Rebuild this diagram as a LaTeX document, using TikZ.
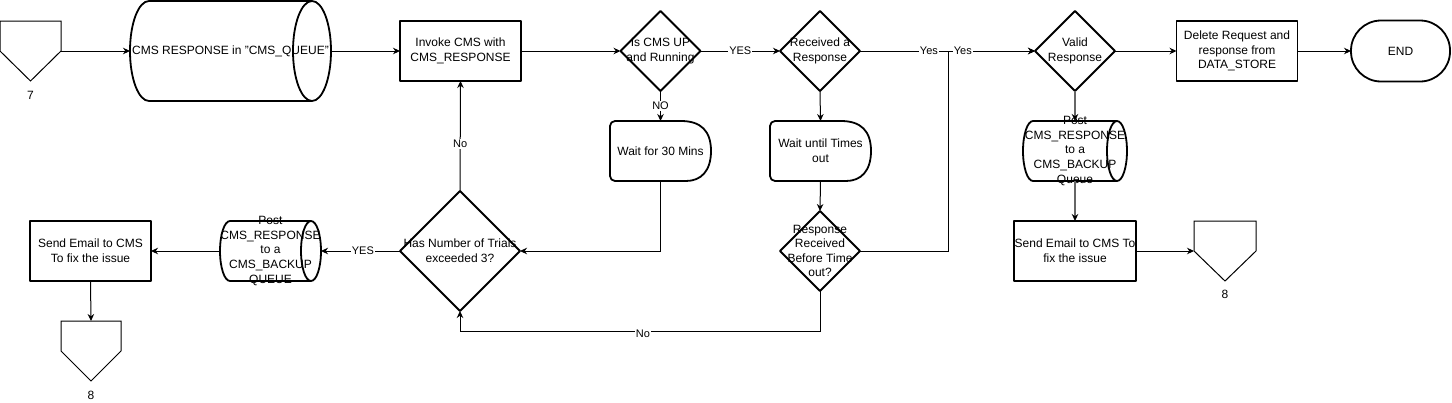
\documentclass[tikz,border=0pt]{standalone}
\usepackage{fontspec}
\setmainfont{Liberation Sans}
\usetikzlibrary{arrows.meta,shapes.geometric}
\begin{document}
\begin{tikzpicture}[x=1pt,y=-1pt,
  base/.style={inner sep=0pt, outer sep=0pt},
  txt/.style={font=\fontsize{12pt}{14.6pt}\selectfont, align=center, inner sep=0pt, text=black},
  shp/.style={draw=black, line width=1.8pt, line join=round},
  procbox/.style={base, rectangle, shp, minimum width=121pt, minimum height=60pt},
  decision/.style={base, diamond, shp, minimum width=80pt, minimum height=80pt},
  frame/.style={base, rectangle},
  offp/.style={draw=black, line width=1pt, line join=miter},
  conn/.style={draw=black, line width=1pt, -{Stealth[length=7pt,width=6.5pt]}},
  grayconn/.style={draw=black!60, line width=1.4pt, -{Stealth[length=7pt,width=6.5pt,color=black]}},
  elbl/.style={font=\fontsize{11pt}{13pt}\selectfont, fill=white, inner sep=1pt, text=black}
]
\fill[white] (0,0) rectangle (1452,402);
\useasboundingbox (0,0) rectangle (1452,402);

% ---------- top row ----------
\node[frame, minimum width=61pt, minimum height=60pt, label={[txt,yshift=-44pt]center:7}] (op7) at (30.5,51) {};
\draw[offp] (op7.north west) -- (op7.north east) -- (op7.east) -- (op7.south) -- (op7.west) -- cycle;

\node[frame, minimum width=201pt, minimum height=100pt, label={[txt]center:{CMS RESPONSE in "CMS\_QUEUE"}}] (cyl1) at (230.5,51) {};
\draw[shp] (149,1) -- (312,1) (149,101) -- (312,101)
  (312,51) ellipse [x radius=19pt, y radius=50pt]
  (149,1) arc [start angle=90, end angle=270, x radius=19pt, y radius=50pt];

\node[procbox, label={[txt]center:{Invoke CMS with\\CMS\_RESPONSE}}] (invoke) at (460.5,51) {};

\node[decision, label={[txt]center:{Is CMS UP\\and Running}}] (d1) at (660.5,51) {};
\node[decision, label={[txt]center:{Received a\\Response}}] (d2) at (820,51) {};
\node[decision, label={[txt]center:{Valid\\Response}}] (valid) at (1075,51) {};

\node[procbox, label={[txt]center:{Delete Request and\\response from\\DATA\_STORE}}] (delete) at (1237,51) {};

\node[base, rectangle, shp, rounded corners=30pt, minimum width=99pt, minimum height=61pt, label={[txt]center:END}] (endn) at (1400.5,51) {};

% ---------- wait shapes ----------
\node[frame, minimum width=101pt, minimum height=60pt, label={[txt]center:{Wait for 30 Mins}}] (w1) at (660.5,151) {};
\node[frame, minimum width=101pt, minimum height=60pt, label={[txt]center:{Wait until Times\\out}}] (w2) at (820.5,151) {};
\foreach \w in {w1,w2}{
  \draw[shp, rounded corners=5pt] ([xshift=-30pt]\w.north east) -- (\w.north west) -- (\w.south west) -- ([xshift=-30pt]\w.south east)
    [sharp corners] .. controls ([xshift=-10pt]\w.south east) and ([yshift=10pt]\w.south east) .. (\w.east)
    .. controls ([yshift=-10pt]\w.north east) and ([xshift=-10pt]\w.north east) .. cycle;
}

\node[decision, label={[txt]center:{Response\\Received\\Before Time\\out?}}] (d3) at (820,251) {};
\node[decision, minimum width=120pt, minimum height=120pt, label={[txt]center:{Has Number of Trials\\exceeded 3?}}] (d4) at (460,251) {};

% ---------- lower left ----------
\node[frame, minimum width=101pt, minimum height=60pt, label={[txt]center:{Post\\CMS\_RESPONSE\\to a\\CMS\_BACKUP\\QUEUE}}] (cyl2) at (270.5,251) {};
\draw[shp] (230,221) -- (311,221) (230,281) -- (311,281)
  (311,251) ellipse [x radius=10pt, y radius=30pt]
  (230,221) arc [start angle=90, end angle=270, x radius=10pt, y radius=30pt];

\node[procbox, label={[txt]center:{Send Email to CMS\\To fix the issue}}] (send1) at (90.5,251) {};

\node[frame, minimum width=60pt, minimum height=60pt, label={[txt,yshift=-44pt]center:8}] (op8a) at (91,351) {};
\draw[offp] (op8a.north west) -- (op8a.north east) -- (op8a.east) -- (op8a.south) -- (op8a.west) -- cycle;

% ---------- lower right ----------
\node[frame, minimum width=104pt, minimum height=60pt, label={[txt]center:{Post\\CMS\_RESPONSE\\to a\\CMS\_BACKUP\\Queue}}] (cyl3) at (1075,151) {};
\draw[shp] (1033,121) -- (1117,121) (1033,181) -- (1117,181)
  (1117,151) ellipse [x radius=10pt, y radius=30pt]
  (1033,121) arc [start angle=90, end angle=270, x radius=10pt, y radius=30pt];

\node[procbox, minimum width=122pt, label={[txt]center:{Send Email to CMS To\\fix the issue}}] (send2) at (1075,251) {};

\node[frame, minimum width=62pt, minimum height=60pt, label={[txt,yshift=-43pt]center:8}] (op8b) at (1225,251) {};
\draw[offp] (op8b.north west) -- (op8b.north east) -- (op8b.east) -- (op8b.south) -- (op8b.west) -- cycle;

\coordinate (jn) at (948,51);

% ---------- connectors ----------
\draw[conn] (op7.east) -- (cyl1.west);
\draw[conn] (cyl1.east) -- (invoke.west);
\draw[conn] (invoke.east) -- (d1.west);
\draw[conn] (d1.east) -- node[elbl]{YES} (d2.west);
\draw[conn] (d1.south) -- node[elbl]{NO} (w1.north);
\draw[conn] (d2.south) -- (w2.north);
\draw[conn] (d2.east) -- node[elbl,pos=.394]{Yes} (valid.west);
\draw[conn] (w2.south) -- (d3.north);
\draw[conn] (d3.east) -| (jn) -- node[elbl,pos=.17]{Yes} (valid.west);
\draw[conn] (w1.south) |- (d4.east);
\draw[conn] (d3.south) -- ++(0,40) -| node[elbl,pos=.246,yshift=-3pt]{No} (d4.south);
\draw[conn] (d4.north) -- node[elbl,pos=.43]{No} (invoke.south);
\draw[conn] (d4.west) -- node[elbl,pos=.47]{YES} (cyl2.east);
\draw[conn] (cyl2.west) -- (send1.east);
\draw[conn] (send1.south) -- (op8a.north);
\draw[conn] (valid.east) -- (delete.west);
\draw[conn] (delete.east) -- (endn.west);
\draw[grayconn] (valid.south) -- (cyl3.north);
\draw[grayconn] (cyl3.south) -- (send2.north);
\draw[conn] (send2.east) -- (op8b.west);
\end{tikzpicture}
\end{document}
